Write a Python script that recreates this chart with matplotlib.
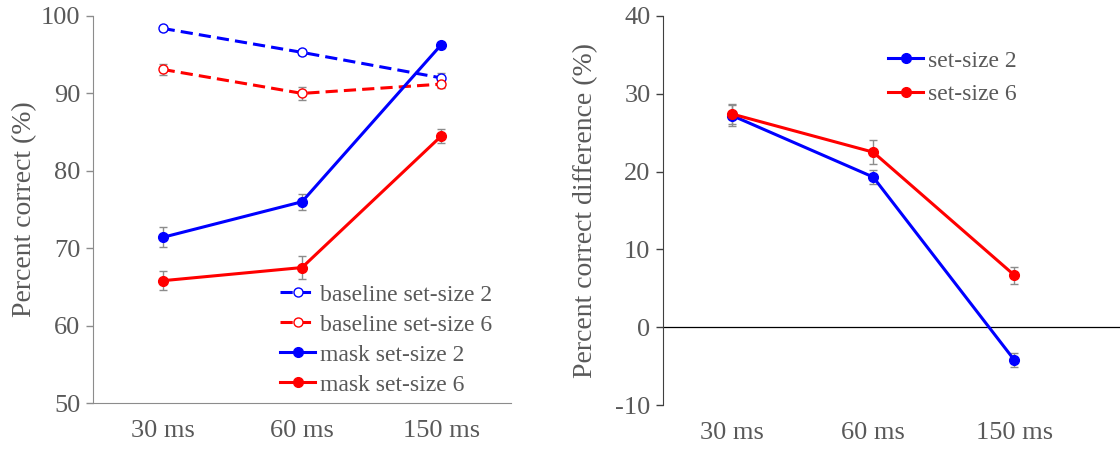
import matplotlib
matplotlib.use("Agg")
import matplotlib.pyplot as plt
import numpy as np

durations = ["30 ms", "60 ms", "150 ms"]

baseline_ss2 = [98.4, 95.3, 92.0]
baseline_ss2_err = [0.3, 0.3, 0.7]
baseline_ss6 = [93.1, 90.0, 91.2]
baseline_ss6_err = [0.7, 0.8, 0.5]
mask_ss2 = [71.4, 76.0, 96.3]
mask_ss2_err = [1.3, 1.0, 0.4]
mask_ss6 = [65.8, 67.5, 84.5]
mask_ss6_err = [1.2, 1.5, 0.9]

diff_ss2 = [27.2, 19.3, -4.2]
diff_ss2_err = [1.3, 0.9, 0.9]
diff_ss6 = [27.4, 22.5, 6.7]
diff_ss6_err = [1.3, 1.5, 1.1]

plt.rcParams["font.family"] = ["Liberation Serif", "DejaVu Serif"]
plt.rcParams["axes.unicode_minus"] = False
TEXT = "#595959"
ERR = "#8c8c8c"
BLUE = "#0000ff"
RED = "#ff0000"

fig = plt.figure(figsize=(11.2, 4.53), dpi=100)
W, H = 1120, 453
ax1 = fig.add_axes([93 / W, (H - 403) / H, 418 / W, 387 / H])
ax2 = fig.add_axes([663 / W, (H - 405) / H, 457 / W, 389 / H])

x = np.arange(len(durations))


def series(ax, y, err, color, label, dashed=False, filled=True):
    ax.errorbar(x, y, yerr=err, fmt="none", ecolor=ERR, elinewidth=1,
                capsize=3, capthick=1, zorder=2)
    kw = dict(color=color, lw=2.2, marker="o", label=label, zorder=3)
    if dashed:
        kw["dashes"] = (4, 2)
    if filled:
        kw.update(markersize=7, markerfacecolor=color, markeredgecolor=color)
    else:
        kw.update(markersize=6.5, markerfacecolor="white",
                  markeredgecolor=color, markeredgewidth=1)
    ax.plot(x, y, **kw)


series(ax1, baseline_ss2, baseline_ss2_err, BLUE, "baseline set-size 2", dashed=True, filled=False)
series(ax1, baseline_ss6, baseline_ss6_err, RED, "baseline set-size 6", dashed=True, filled=False)
series(ax1, mask_ss2, mask_ss2_err, BLUE, "mask set-size 2")
series(ax1, mask_ss6, mask_ss6_err, RED, "mask set-size 6")

ax1.set_xlim(-0.5, 2.5)
ax1.set_ylim(50, 100)
ax1.set_yticks(np.arange(50, 101, 10))
ax1.set_ylabel("Percent correct (%)", color=TEXT, fontsize=20, labelpad=3)

series(ax2, diff_ss2, diff_ss2_err, BLUE, "set-size 2")
series(ax2, diff_ss6, diff_ss6_err, RED, "set-size 6")
ax2.axhline(0, color="black", lw=0.9, zorder=1)
ax2.set_xlim(-0.49, 2.75)
ax2.set_ylim(-10, 40)
ax2.set_yticks(np.arange(-10, 41, 10))
ax2.set_ylabel("Percent correct difference (%)", color=TEXT, fontsize=20, labelpad=12)

for ax, spine_col in ((ax1, "#8c8c8c"), (ax2, "#404040")):
    ax.set_xticks(x)
    ax.set_xticklabels(durations)
    ax.spines["top"].set_visible(False)
    ax.spines["right"].set_visible(False)
    ax.spines["left"].set_color(spine_col)
    ax.spines["bottom"].set_color(spine_col)
    ax.tick_params(axis="y", direction="out", length=5, width=1,
                   color=spine_col, labelcolor=TEXT, labelsize=19, pad=4)
    ax.tick_params(axis="x", length=0, labelcolor=TEXT, labelsize=19, pad=12)

ax2.spines["bottom"].set_visible(False)

leg_kw = dict(frameon=False, fontsize=17, handlelength=1.5, handletextpad=0.2,
              borderpad=0, borderaxespad=0, labelcolor=TEXT)
ax1.legend(loc="upper left", bbox_to_anchor=((280 - 93) / 418, (403 - 284) / 387),
           labelspacing=0.36, **leg_kw)
ax2.legend(loc="upper left", bbox_to_anchor=((888 - 663) / 457, (405 - 50) / 389),
           labelspacing=0.5, **leg_kw)

fig.savefig("out.png", dpi=100)
